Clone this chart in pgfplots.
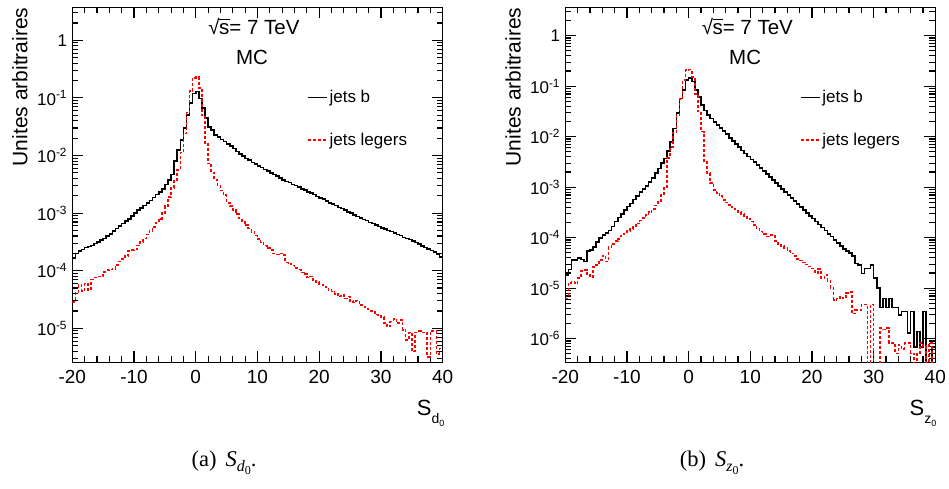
\documentclass[border=0pt]{standalone}
\usepackage{fontspec}
\setmainfont{Liberation Sans}
\newfontfamily\seriffont{Liberation Serif}
\usepackage{pgfplots}
\usepackage{pgfplotstable}
\pgfplotsset{compat=1.18}

% S_d0 : bin left edges, b-jets, light jets
\pgfplotstableread{
x b l
-20 1.66e-4 2.88e-5
-19.5 2.00e-4 4.17e-5
-19 2.19e-4 5.62e-5
-18.5 2.34e-4 4.47e-5
-18 2.51e-4 6.03e-5
-17.5 2.63e-4 4.68e-5
-17 2.75e-4 7.08e-5
-16.5 2.95e-4 7.59e-5
-16 3.16e-4 7.94e-5
-15.5 3.39e-4 7.94e-5
-15 3.63e-4 9.55e-5
-14.5 3.98e-4 1.02e-4
-14 4.37e-4 1.05e-4
-13.5 4.90e-4 1.07e-4
-13 5.37e-4 1.26e-4
-12.5 6.03e-4 1.45e-4
-12 6.61e-4 1.58e-4
-11.5 7.24e-4 1.78e-4
-11 7.94e-4 2.19e-4
-10.5 8.91e-4 2.29e-4
-10 1.00e-3 2.34e-4
-9.5 1.12e-3 2.75e-4
-9 1.23e-3 3.16e-4
-8.5 1.35e-3 3.63e-4
-8 1.51e-3 4.27e-4
-7.5 1.66e-3 4.90e-4
-7 1.86e-3 5.75e-4
-6.5 2.09e-3 6.76e-4
-6 2.34e-3 7.94e-4
-5.5 2.63e-3 1.00e-3
-5 3.16e-3 1.32e-3
-4.5 3.80e-3 1.91e-3
-4 4.68e-3 2.75e-3
-3.5 7.94e-3 3.80e-3
-3 1.26e-2 5.62e-3
-2.5 1.86e-2 1.12e-2
-2 3.02e-2 2.40e-2
-1.5 5.01e-2 5.62e-2
-1 8.13e-2 0.132
-0.5 0.120 0.224
0 0.129 0.229
0.5 9.77e-2 0.148
1 6.61e-2 5.01e-2
1.5 4.47e-2 1.58e-2
2 3.16e-2 7.24e-3
2.5 2.75e-2 5.01e-3
3 2.29e-2 3.80e-3
3.5 2.09e-2 3.02e-3
4 1.91e-2 2.45e-3
4.5 1.74e-2 2.04e-3
5 1.58e-2 1.51e-3
5.5 1.45e-2 1.32e-3
6 1.32e-2 1.12e-3
6.5 1.17e-2 9.55e-4
7 1.07e-2 8.13e-4
7.5 9.77e-3 7.08e-4
8 8.91e-3 6.17e-4
8.5 8.32e-3 5.37e-4
9 7.59e-3 4.68e-4
9.5 7.08e-3 4.07e-4
10 6.61e-3 3.55e-4
10.5 6.17e-3 3.09e-4
11 5.75e-3 2.75e-4
11.5 5.37e-3 2.45e-4
12 5.01e-3 2.29e-4
12.5 4.68e-3 2.00e-4
13 4.37e-3 1.91e-4
13.5 4.07e-3 2.00e-4
14 3.80e-3 1.86e-4
14.5 3.55e-3 1.38e-4
15 3.39e-3 1.32e-4
15.5 3.16e-3 1.23e-4
16 3.02e-3 1.12e-4
16.5 2.82e-3 1.05e-4
17 2.63e-3 9.33e-5
17.5 2.51e-3 8.71e-5
18 2.34e-3 7.59e-5
18.5 2.24e-3 7.94e-5
19 2.09e-3 6.61e-5
19.5 1.95e-3 6.31e-5
20 1.82e-3 5.75e-5
20.5 1.74e-3 5.62e-5
21 1.62e-3 5.25e-5
21.5 1.51e-3 4.68e-5
22 1.45e-3 4.37e-5
22.5 1.35e-3 3.98e-5
23 1.26e-3 3.55e-5
23.5 1.20e-3 3.80e-5
24 1.12e-3 3.31e-5
24.5 1.05e-3 3.55e-5
25 1.00e-3 2.95e-5
25.5 9.33e-4 2.82e-5
26 8.71e-4 3.02e-5
26.5 8.32e-4 2.51e-5
27 7.76e-4 2.34e-5
27.5 7.41e-4 2.19e-5
28 6.92e-4 2.00e-5
28.5 6.61e-4 1.91e-5
29 6.17e-4 1.74e-5
29.5 5.89e-4 1.66e-5
30 5.50e-4 1.58e-5
30.5 5.25e-4 1.23e-5
31 5.01e-4 1.07e-5
31.5 4.79e-4 1.32e-5
32 4.47e-4 1.45e-5
32.5 4.27e-4 1.23e-5
33 4.07e-4 1.38e-5
33.5 3.80e-4 9.33e-6
34 3.63e-4 6.31e-6
34.5 3.47e-4 8.51e-6
35 3.24e-4 3.98e-6
35.5 3.09e-4 8.51e-6
36 2.88e-4 8.91e-6
36.5 2.69e-4 8.51e-6
37 2.51e-4 8.51e-6
37.5 2.40e-4 3.16e-6
38 2.24e-4 8.91e-6
38.5 2.09e-4 8.91e-6
39 1.95e-4 3.55e-6
39.5 1.74e-4 4.47e-6
40 1.74e-4 4.47e-6
}\sdzero

% S_z0 : bin left edges, b-jets, light jets
\pgfplotstableread{
x b l
-20 1.82e-5 6.31e-6
-19.5 2.34e-5 1.26e-5
-19 3.63e-5 1.35e-5
-18.5 3.63e-5 1.26e-5
-18 3.98e-5 1.58e-5
-17.5 3.72e-5 2.19e-5
-17 3.39e-5 2.29e-5
-16.5 5.50e-5 1.91e-5
-16 5.75e-5 1.66e-5
-15.5 6.61e-5 2.63e-5
-15 8.32e-5 2.88e-5
-14.5 9.77e-5 3.63e-5
-14 1.12e-4 4.37e-5
-13.5 1.23e-4 3.39e-5
-13 1.38e-4 6.61e-5
-12.5 1.66e-4 7.59e-5
-12 2.09e-4 8.51e-5
-11.5 2.51e-4 9.55e-5
-11 2.95e-4 1.10e-4
-10.5 3.55e-4 1.20e-4
-10 4.17e-4 1.35e-4
-9.5 4.79e-4 1.48e-4
-9 5.75e-4 1.66e-4
-8.5 6.76e-4 1.91e-4
-8 7.94e-4 2.19e-4
-7.5 9.12e-4 2.45e-4
-7 1.07e-3 2.82e-4
-6.5 1.26e-3 3.24e-4
-6 1.51e-3 3.72e-4
-5.5 1.91e-3 4.37e-4
-5 2.34e-3 5.25e-4
-4.5 3.02e-3 7.41e-4
-4 3.72e-3 1.00e-3
-3.5 5.25e-3 3.80e-3
-3 7.94e-3 6.31e-3
-2.5 1.45e-2 1.20e-2
-2 2.95e-2 2.63e-2
-1.5 5.75e-2 5.62e-2
-1 8.32e-2 0.132
-0.5 0.132 0.209
0 0.145 0.214
0.5 0.123 0.151
1 8.32e-2 7.08e-2
1.5 6.17e-2 3.16e-2
2 4.27e-2 1.26e-2
2.5 3.31e-2 3.16e-3
3 2.69e-2 1.91e-3
3.5 2.29e-2 1.20e-3
4 1.95e-2 8.91e-4
4.5 1.70e-2 7.59e-4
5 1.48e-2 6.61e-4
5.5 1.29e-2 5.62e-4
6 1.12e-2 5.01e-4
6.5 9.33e-3 4.47e-4
7 8.13e-3 3.98e-4
7.5 7.08e-3 3.63e-4
8 6.17e-3 3.24e-4
8.5 5.37e-3 2.95e-4
9 4.68e-3 2.63e-4
9.5 4.07e-3 2.34e-4
10 3.55e-3 2.09e-4
10.5 3.16e-3 1.78e-4
11 2.75e-3 1.51e-4
11.5 2.40e-3 1.32e-4
12 2.09e-3 1.17e-4
12.5 1.82e-3 1.05e-4
13 1.58e-3 1.12e-4
13.5 1.38e-3 1.07e-4
14 1.20e-3 8.71e-5
14.5 1.05e-3 7.59e-5
15 9.12e-4 6.76e-5
15.5 7.94e-4 6.17e-5
16 7.08e-4 5.50e-5
16.5 6.17e-4 4.90e-5
17 5.37e-4 4.37e-5
17.5 4.68e-4 3.80e-5
18 4.07e-4 3.55e-5
18.5 3.55e-4 3.24e-5
19 3.09e-4 2.95e-5
19.5 2.69e-4 2.69e-5
20 2.40e-4 2.45e-5
20.5 2.09e-4 2.00e-5
21 1.82e-4 2.40e-5
21.5 1.58e-4 1.58e-5
22 1.38e-4 1.82e-5
22.5 1.20e-4 1.38e-5
23 1.05e-4 1.00e-5
23.5 9.12e-5 5.89e-6
24 7.94e-5 6.31e-6
24.5 6.92e-5 6.76e-6
25 6.03e-5 6.31e-6
25.5 5.50e-5 8.13e-6
26 5.01e-5 8.51e-6
26.5 4.37e-5 3.16e-6
27 3.09e-5 3.72e-6
27.5 2.88e-5 3.72e-6
28 1.95e-5 4.68e-6
28.5 2.45e-5 4.79e-6
29 2.45e-5 1e-9
29.5 2.88e-5 4.79e-6
30 1.58e-5 1e-9
30.5 1.00e-5 1e-9
31 4.17e-6 1.62e-6
31.5 6.31e-6 1.51e-6
32 4.17e-6 1.62e-6
32.5 6.31e-6 8.13e-7
33 4.17e-6 8.13e-7
33.5 4.17e-6 5.13e-7
34 2.95e-6 7.59e-7
34.5 3.47e-6 6.31e-7
35 3.47e-6 8.13e-7
35.5 1.29e-6 8.13e-7
36 3.47e-6 5.13e-7
36.5 6.92e-7 1e-9
37 1.38e-6 5.13e-7
37.5 6.92e-7 8.13e-7
38 3.47e-6 7.08e-7
38.5 1e-9 1e-9
39 1e-9 8.13e-7
39.5 6.92e-7 1e-9
40 6.92e-7 1e-9
}\szzero

\newcommand{\sqrts}{\mbox{√\kern-0.6pt\rlap{\rule[15pt]{10.5pt}{1.1pt}}s}}

\pgfplotsset{
  rootaxis/.style={
    anchor=south west, scale only axis, height=355pt,
    xmin=-20, xmax=40,
    axis line style={line width=1.3pt},
    every tick/.style={black, line width=1.1pt},
    tick align=inside,
    major tick length=11pt, minor tick length=6pt,
    xtick={-20,-10,0,10,20,30,40},
    xticklabels={-20,-10,0,10,20,30,40},
    minor xtick={-18,-16,-14,-12,-8,-6,-4,-2,2,4,6,8,12,14,16,18,22,24,26,28,32,34,36,38},
    minor ytick={2e-7,3e-7,4e-7,5e-7,6e-7,7e-7,8e-7,9e-7,2e-6,3e-6,4e-6,5e-6,6e-6,7e-6,8e-6,9e-6,2e-5,3e-5,4e-5,5e-5,6e-5,7e-5,8e-5,9e-5,2e-4,3e-4,4e-4,5e-4,6e-4,7e-4,8e-4,9e-4,2e-3,3e-3,4e-3,5e-3,6e-3,7e-3,8e-3,9e-3,2e-2,3e-2,4e-2,5e-2,6e-2,7e-2,8e-2,9e-2,0.2,0.3,0.4,0.5,0.6,0.7,0.8,0.9,2,3},
    xticklabel style={font=\fontsize{19}{19}\selectfont, inner sep=0pt, anchor=north, yshift=-8pt},
    yticklabel style={font=\fontsize{17}{17}\selectfont, inner sep=0pt, anchor=east, xshift=-5pt},
    ylabel={Unites arbitraires},
    ylabel style={at={(rel axis cs:-0.12,1)}, anchor=south east, inner sep=0pt, font=\fontsize{21}{21}\selectfont},
    xlabel style={at={(rel axis cs:0.93,-0.1485)}, anchor=base west, inner sep=0pt, font=\fontsize{22}{22}\selectfont},
    legend style={draw=none, fill=none, at={(rel axis cs:0.633,0.772)}, anchor=north west,
      font=\fontsize{17}{17}\selectfont, row sep=25pt, inner sep=0pt,
      /tikz/every even column/.append style={column sep=4pt}},
    legend cell align=left,
    legend image code/.code={\draw[#1] (0pt,0pt) -- (19pt,0pt);},
  },
  bline/.style={const plot, black, line width=1.6pt},
  rline/.style={const plot, red, line width=1.6pt, dash pattern=on 3pt off 2pt},
}

\begin{document}
\begin{tikzpicture}
\useasboundingbox (0,0) rectangle (949pt,489pt);
\begin{semilogyaxis}[rootaxis, at={(72.3pt,126.7pt)}, width=370.4pt,
  ymin=2.57e-6, ymax=3.74,
  ytick={1e-5,1e-4,1e-3,1e-2,1e-1,1},
  yticklabels={10\textsuperscript{-5},10\textsuperscript{-4},10\textsuperscript{-3},10\textsuperscript{-2},10\textsuperscript{-1},1},
  xlabel={S\raisebox{-8pt}{\fontsize{14}{14}\selectfont d\raisebox{-3pt}{\fontsize{9}{9}\selectfont 0}}}]
\addplot[bline] table[x=x,y=b] {\sdzero};
\addlegendentry{jets b}
\addplot[rline] table[x=x,y=l] {\sdzero};
\addlegendentry{jets legers}
\node[anchor=base, inner sep=0pt, font=\fontsize{20.5}{20.5}\selectfont] at (rel axis cs:0.4905,0.922) {\sqrts= 7 TeV};
\node[anchor=base, inner sep=0pt, font=\fontsize{20.5}{20.5}\selectfont] at (rel axis cs:0.485,0.8375) {MC};
\end{semilogyaxis}
\begin{semilogyaxis}[rootaxis, at={(565.3pt,126.7pt)}, width=370pt,
  ymin=3.41e-7, ymax=3.65,
  ytick={1e-6,1e-5,1e-4,1e-3,1e-2,1e-1,1},
  yticklabels={10\textsuperscript{-6},10\textsuperscript{-5},10\textsuperscript{-4},10\textsuperscript{-3},10\textsuperscript{-2},10\textsuperscript{-1},1},
  xlabel={S\raisebox{-8pt}{\fontsize{14}{14}\selectfont z\raisebox{-3pt}{\fontsize{9}{9}\selectfont 0}}}]
\addplot[bline] table[x=x,y=b] {\szzero};
\addlegendentry{jets b}
\addplot[rline] table[x=x,y=l] {\szzero};
\addlegendentry{jets legers}
\node[anchor=base, inner sep=0pt, font=\fontsize{20.5}{20.5}\selectfont] at (rel axis cs:0.492,0.922) {\sqrts= 7 TeV};
\node[anchor=base, inner sep=0pt, font=\fontsize{20.5}{20.5}\selectfont] at (rel axis cs:0.486,0.8375) {MC};
\end{semilogyaxis}
\node[anchor=base, inner sep=0pt, font=\seriffont\fontsize{22.5}{22.5}\selectfont] at (224pt,22pt)
  {(a)\hspace{9pt}\textit{S}\raisebox{-5pt}{\fontsize{16}{16}\selectfont\textit{d}\raisebox{-2.5pt}{\fontsize{12}{12}\selectfont 0}}.};
\node[anchor=base, inner sep=0pt, font=\seriffont\fontsize{22.5}{22.5}\selectfont] at (712pt,22pt)
  {(b)\hspace{9pt}\textit{S}\raisebox{-5pt}{\fontsize{16}{16}\selectfont\textit{z}\raisebox{-2.5pt}{\fontsize{12}{12}\selectfont 0}}.};
\end{tikzpicture}
\end{document}
